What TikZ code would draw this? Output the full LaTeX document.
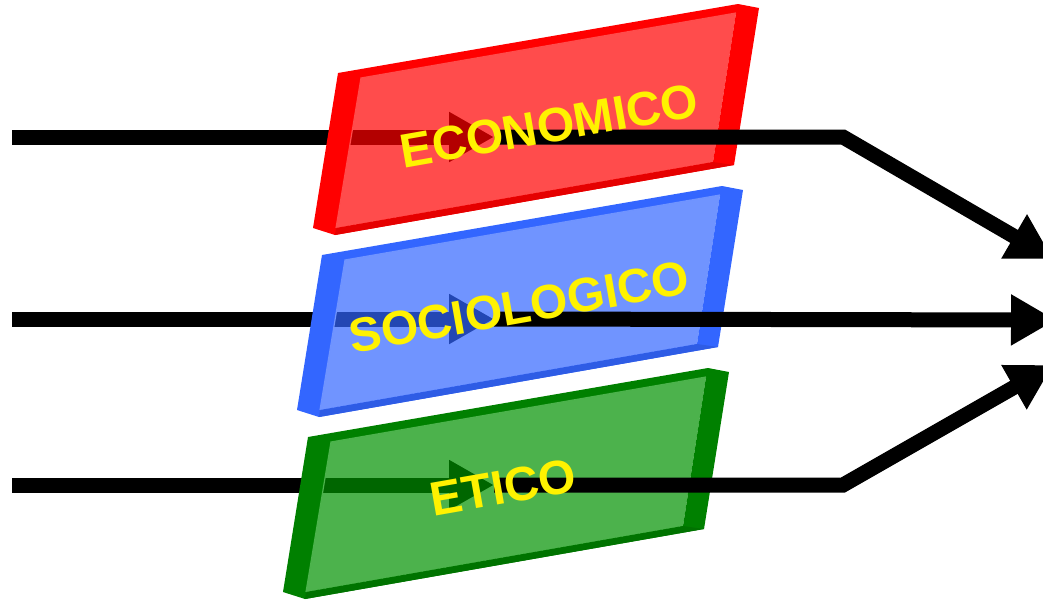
\documentclass[tikz,border=0pt]{standalone}
\usepackage{fontspec}
\setmainfont{Liberation Sans}
\usetikzlibrary{arrows.meta}

\definecolor{slabred}{RGB}{255,0,0}
\definecolor{slabblue}{RGB}{51,102,255}
\definecolor{slabgreen}{RGB}{0,128,0}
\definecolor{slabgreenface}{RGB}{0,146,0}

\tikzset{
  bar/.style={line width=7.5pt},
  smalltip/.style={-{Triangle[length=22.5pt,width=23.5pt]}},
  bigtip/.style={-{Triangle[length=22.5pt,width=24pt]}},
  lbl/.style={text=yellow, inner sep=0pt, rotate=10,
    font=\bfseries\fontsize{24pt}{28pt}\selectfont},
  pics/slab/.style 2 args={code={
    \fill[#1, even odd rule] (0,0) -- (400,-69) -- (421,-65) -- (396,92) -- (-3,162) -- (-25,155) -- cycle
      (23,5) -- (398,-60) -- (375,89) -- (-2,155) -- cycle;
    \fill[#1!90!black] (-2,155) -- (375,89) -- (396,92) -- (-3,162) -- cycle;
    \fill[#2, fill opacity=0.7] (23,5) -- (398,-60) -- (375,89) -- (-2,155) -- cycle;
    \draw[#2!70!white, line width=0.6pt] (-2,155) -- (23,5) -- (398,-60);
  }}
}

\begin{document}
\begin{tikzpicture}[x=0.5pt, y=-0.5pt]
            \useasboundingbox (0,0) rectangle (1043,600);

            % Nodes (ends and bends of the bars)
            \coordinate (a0) at (12,137);
            \coordinate (a1) at (494,137);
            \coordinate (a2) at (843,137);
            \coordinate (a3) at (1053,259);

            \coordinate (b0) at (12,319);
            \coordinate (b1) at (494,319);
            \coordinate (b3) at (1056,320);

            \coordinate (c0) at (12,485);
            \coordinate (c1) at (494,485);
            \coordinate (c2) at (843,485);
            \coordinate (c3) at (1053,365);

            % Arrows under the slabs
            \draw[bar, smalltip] (a0) -- (a1);
            \draw[bar, smalltip] (b0) -- (b1);
            \draw[bar, smalltip] (c0) -- (c1);

            % Slabs
            \pic at (338,73) {slab={slabred}{slabred}};
            \pic at (322,255) {slab={slabblue}{slabblue}};
            \pic at (308,437) {slab={slabgreen}{slabgreenface}};

            % Arrows over the slabs
            \draw[bar, bigtip] (a1) -- (a2) -- (a3);
            \draw[bar, bigtip] (b1) -- (b3);
            \draw[bar, bigtip] (c1) -- (c2) -- (c3);

            % Labels
            \node[lbl] (eco) at (549,126) {ECONOMICO};
            \node[lbl] (soc) at (519,307) {SOCIOLOGICO};
            \node[lbl] (eti) at (503,487) {ETICO};
        \end{tikzpicture}
\end{document}
